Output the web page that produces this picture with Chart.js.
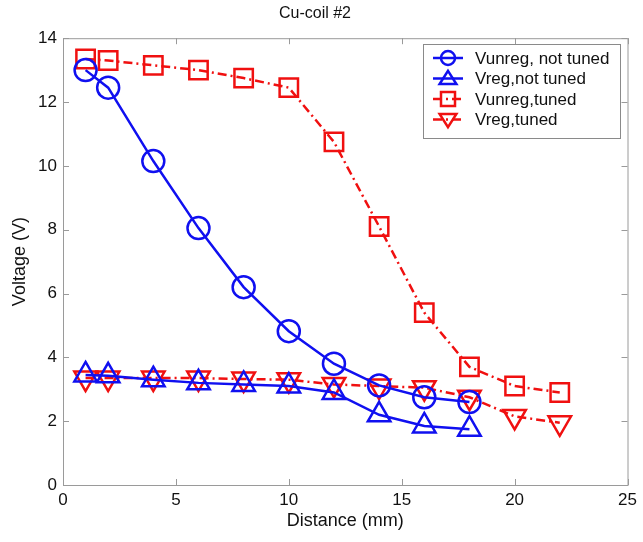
<!DOCTYPE html>
<html>
<head>
<meta charset="utf-8">
<script src="https://cdn.jsdelivr.net/npm/chart.js@4.4.0/dist/chart.umd.min.js"></script>
<style>
  body { margin: 0; background: #fff; }
</style>
</head>
<body>
<canvas id="coilChart" width="643" height="542"></canvas>
<script>
// Data
const distShort = [1, 2, 4, 6, 8, 10, 12, 14, 16, 18];
const distLong = [1, 2, 4, 6, 8, 10, 12, 14, 16, 18, 20, 22];

const vunregNotTuned = [13.0, 12.45, 10.15, 8.05, 6.2, 4.82, 3.8, 3.12, 2.75, 2.6];
const vregNotTuned = [3.45, 3.42, 3.3, 3.2, 3.15, 3.1, 2.9, 2.2, 1.85, 1.75];
const vunregTuned = [13.35, 13.3, 13.15, 13.0, 12.75, 12.45, 10.75, 8.1, 5.4, 3.7, 3.1, 2.9];
const vregTuned = [3.35, 3.35, 3.35, 3.35, 3.32, 3.3, 3.15, 3.1, 3.05, 2.75, 2.15, 1.95];

const xTicks = [0, 5, 10, 15, 20, 25];
const yTicks = [0, 2, 4, 6, 8, 10, 12, 14];

const BLUE = '#1010f0';
const RED = '#f01010';
const DASHDOT = [9, 4, 2, 4];
const FONT = '"Liberation Sans", Arial, sans-serif';

function toPoints(xs, ys) {
  return xs.map((x, i) => ({ x: x, y: ys[i] }));
}

// Matlab style box with ticks pointing inward + legend box
const boxPlugin = {
  id: 'boxPlugin',
  afterDraw(chart) {
    const ctx = chart.ctx;
    const a = chart.chartArea;
    const xs = chart.scales.x;
    const ys = chart.scales.y;
    ctx.save();
    ctx.strokeStyle = '#9a9a9a';
    ctx.lineWidth = 1;
    ctx.strokeRect(a.left + 0.5, a.top + 0.5, a.right - a.left, a.bottom - a.top);
    const tl = 6;
    xTicks.forEach(t => {
      const px = Math.round(xs.getPixelForValue(t)) + 0.5;
      ctx.beginPath();
      ctx.moveTo(px, a.bottom); ctx.lineTo(px, a.bottom - tl);
      ctx.moveTo(px, a.top); ctx.lineTo(px, a.top + tl);
      ctx.stroke();
    });
    yTicks.forEach(t => {
      const py = Math.round(ys.getPixelForValue(t)) + 0.5;
      ctx.beginPath();
      ctx.moveTo(a.left, py); ctx.lineTo(a.left + tl, py);
      ctx.moveTo(a.right, py); ctx.lineTo(a.right - tl, py);
      ctx.stroke();
    });

    // legend
    const lx = 423, ly = 44, lw = 197, lh = 94;
    ctx.fillStyle = '#fff';
    ctx.fillRect(lx, ly, lw, lh);
    ctx.strokeStyle = '#8a8a8a';
    ctx.strokeRect(lx + 0.5, ly + 0.5, lw, lh);
    ctx.font = '17px ' + FONT;
    ctx.textBaseline = 'middle';
    chart.data.datasets.forEach((ds, i) => {
      const cy = ly + 14 + i * 20.5;
      ctx.strokeStyle = ds.borderColor;
      ctx.lineWidth = 2.5;
      ctx.setLineDash(ds.borderDash || []);
      ctx.beginPath();
      ctx.moveTo(lx + 10, cy); ctx.lineTo(lx + 40, cy);
      ctx.stroke();
      ctx.setLineDash([]);
      drawMarker(ctx, ds.pointStyle, ds.pointRotation || 0, lx + 25, cy, 7);
      ctx.fillStyle = '#111';
      ctx.fillText(ds.label, lx + 52, cy + 1);
    });
    ctx.restore();
  }
};

function drawMarker(ctx, style, rot, x, y, r) {
  ctx.beginPath();
  if (style === 'circle') {
    ctx.arc(x, y, r, 0, Math.PI * 2);
  } else if (style === 'rect') {
    ctx.rect(x - r, y - r, 2 * r, 2 * r);
  } else {
    const s = rot ? -1 : 1;
    ctx.moveTo(x, y - s * r * 1.1);
    ctx.lineTo(x + r * 1.2, y + s * r * 0.8);
    ctx.lineTo(x - r * 1.2, y + s * r * 0.8);
    ctx.closePath();
  }
  ctx.stroke();
}

new Chart(document.getElementById('coilChart'), {
  type: 'line',
  data: {
    datasets: [
      {
        label: 'Vunreg, not tuned',
        data: toPoints(distShort, vunregNotTuned),
        borderColor: BLUE,
        pointStyle: 'circle',
        pointRadius: 11
      },
      {
        label: 'Vreg,not tuned',
        data: toPoints(distShort, vregNotTuned),
        borderColor: BLUE,
        pointStyle: 'triangle',
        pointRadius: 13
      },
      {
        label: 'Vunreg,tuned',
        data: toPoints(distLong, vunregTuned),
        borderColor: RED,
        borderDash: DASHDOT,
        pointStyle: 'rect',
        pointRadius: 13
      },
      {
        label: 'Vreg,tuned',
        data: toPoints(distLong, vregTuned),
        borderColor: RED,
        borderDash: DASHDOT,
        pointStyle: 'triangle',
        pointRotation: 180,
        pointRadius: 13
      }
    ].map(ds => Object.assign({
      borderWidth: 2.5,
      pointBorderWidth: 2.5,
      pointBorderColor: ds.borderColor,
      pointBackgroundColor: 'rgba(0,0,0,0)',
      fill: false,
      tension: 0
    }, ds))
  },
  options: {
    responsive: false,
    animation: false,
    layout: { padding: { left: 0, right: 13, top: 0, bottom: 0 } },
    plugins: {
      legend: { display: false },
      tooltip: { enabled: false },
      title: {
        display: true,
        text: 'Cu-coil #2',
        color: '#111',
        font: { family: FONT, size: 16, weight: 'normal' },
        padding: { top: 4, bottom: 15 }
      }
    },
    scales: {
      x: {
        type: 'linear',
        min: 0,
        max: 25,
        afterBuildTicks: s => { s.ticks = xTicks.map(v => ({ value: v })); },
        afterFit: s => { s.height = 57; },
        grid: { display: false, drawTicks: false, tickLength: 0 },
        border: { display: false },
        ticks: {
          color: '#111',
          padding: 5,
          font: { family: FONT, size: 17 }
        },
        title: {
          display: true,
          text: 'Distance (mm)',
          color: '#111',
          padding: { top: 0, bottom: 10 },
          font: { family: FONT, size: 18 }
        }
      },
      y: {
        min: 0,
        max: 14,
        afterBuildTicks: s => { s.ticks = yTicks.map(v => ({ value: v })); },
        afterFit: s => { s.width = 63; },
        grid: { display: false, drawTicks: false, tickLength: 0 },
        border: { display: false },
        ticks: {
          color: '#111',
          padding: 6,
          font: { family: FONT, size: 17 }
        },
        title: {
          display: true,
          text: 'Voltage (V)',
          color: '#111',
          padding: { top: 9, bottom: 0 },
          font: { family: FONT, size: 18 }
        }
      }
    }
  },
  plugins: [boxPlugin]
});
</script>
</body>
</html>
